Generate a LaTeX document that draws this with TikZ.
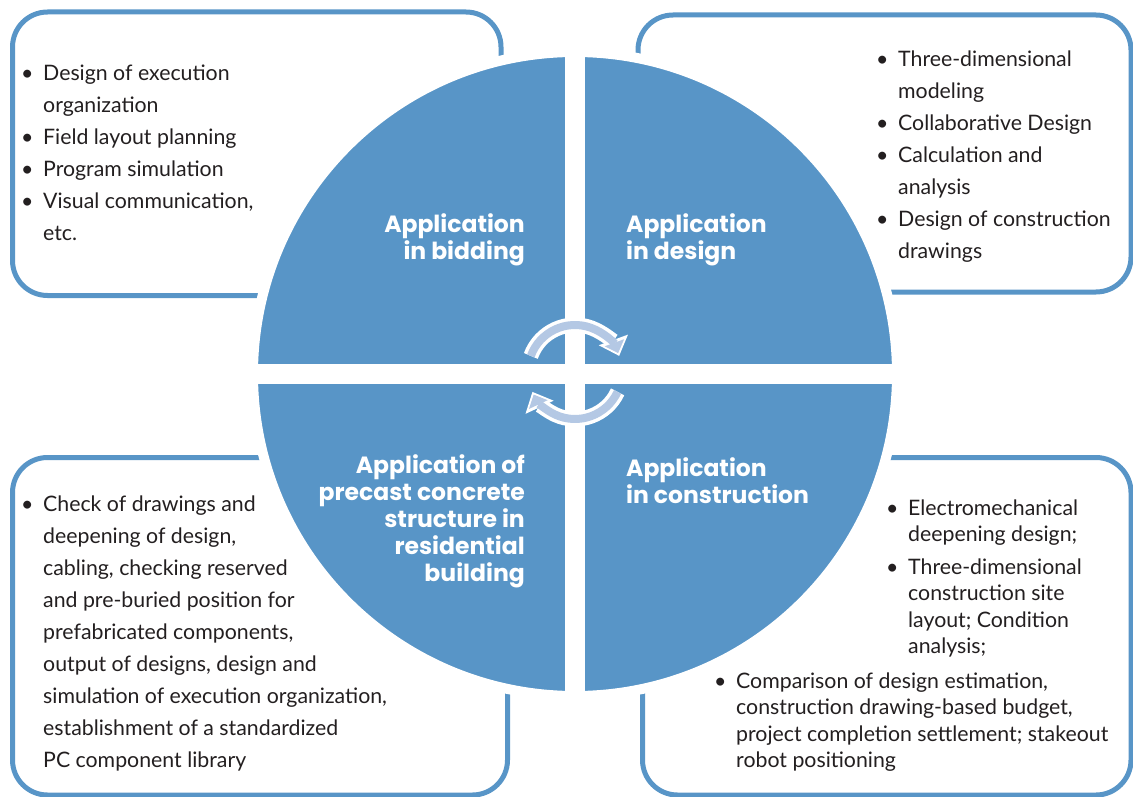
\documentclass[tikz,border=0pt]{standalone}
\usepackage{fontspec}
\setmainfont{Lato}
\newfontfamily\headfont{Poppins}
\usetikzlibrary{arrows.meta}

\definecolor{quadblue}{RGB}{88,149,199}
\definecolor{cycleblue}{RGB}{180,200,228}
\definecolor{inkgray}{RGB}{35,31,32}

\newcommand{\bul}{\makebox[22pt][l]{\textbullet}}

\tikzset{
    infobox/.style={draw=quadblue, line width=5pt, fill=white, rounded corners=35pt},
    quadlabel/.style={text=white, inner sep=0pt, font=\headfont\bfseries\fontsize{23.5}{27}\selectfont},
    bullets/.style={text=inkgray, inner sep=0pt, anchor=base west},
    cycleback/.style={white, line width=15pt, -{Triangle[width=30pt,length=17pt]}},
    cyclefront/.style={cycleblue, line width=8pt, shorten >=3pt, -{Triangle[width=20pt,length=11pt]}},
}

\begin{document}
\begin{tikzpicture}[x=1pt, y=-1pt]
    \useasboundingbox (0,0) rectangle (1133,797);

    % Four text boxes behind the disc
    \draw[infobox] (12.5,12) rectangle (501,295.5);
    \draw[infobox] (638,15) rectangle (1131,292);
    \draw[infobox] (12.5,457.5) rectangle (507.5,795);
    \draw[infobox] (642.5,457.5) rectangle (1131,795);

    % Disc split in four quarters
    \filldraw[fill=quadblue, draw=white, line width=10pt] (575,374) circle (322pt);
    \draw[white, line width=20pt] (575,47) -- (575,701);
    \draw[white, line width=20pt] (248,374) -- (902,374);

    % Cycle arrows in the middle
    \coordinate (hub) at (575,372);
    \draw[cycleback] (hub) ++(-160:47) arc[start angle=-160, end angle=-20, radius=47];
    \draw[cyclefront] (hub) ++(-160:47) arc[start angle=-160, end angle=-20, radius=47];
    \draw[cycleback] (hub) ++(25:47) arc[start angle=25, end angle=155, radius=47];
    \draw[cyclefront] (hub) ++(25:47) arc[start angle=25, end angle=155, radius=47];

    % Quarter labels
    \node[quadlabel, anchor=east, align=right] (bidding) at (525,240) {Application\\in bidding};
    \node[quadlabel, anchor=west, align=left] (design) at (626,240) {Application\\in design};
    \node[quadlabel, anchor=east, align=right] (precast) at (525,521)
        {Application of\\precast concrete\\structure in\\residential\\building};
    \node[quadlabel, anchor=west, align=left] (construction) at (626,481) {Application\\in construction};

    % Bullet lists
    \node[bullets, font=\fontsize{21.3}{32}\selectfont] (biddinglist) at (21,81) {%
        \begin{tabular}[t]{@{}l@{}l@{}}
        \bul & Design of execution\\
             & organization\\
        \bul & Field layout planning\\
        \bul & Program simulation\\
        \bul & Visual communication,\\
             & etc.
        \end{tabular}};
    \node[bullets, font=\fontsize{21.3}{32}\selectfont] (designlist) at (876,67) {%
        \begin{tabular}[t]{@{}l@{}l@{}}
        \bul & Three-dimensional\\
             & modeling\\
        \bul & Collaborative Design\\
        \bul & Calculation and\\
             & analysis\\
        \bul & Design of construction\\
             & drawings
        \end{tabular}};
    \node[bullets, font=\fontsize{21.3}{32}\selectfont] (precastlist) at (21,511) {%
        \begin{tabular}[t]{@{}l@{}l@{}}
        \bul & Check of drawings and\\
             & deepening of design,\\
             & cabling, checking reserved\\
             & and pre-buried position for\\
             & prefabricated components,\\
             & output of designs, design and\\
             & simulation of execution organization,\\
             & establishment of a standardized\\
             & PC component library
        \end{tabular}};
    \node[bullets, font=\fontsize{21.3}{26.5}\selectfont] (constructionlist) at (886,515) {%
        \begin{tabular}[t]{@{}l@{}l@{}}
        \bul & Electromechanical\\
             & deepening design;\\[6pt]
        \bul & Three-dimensional\\
             & construction site\\
             & layout; Condition\\
             & analysis;
        \end{tabular}};
    \node[bullets, font=\fontsize{21.3}{26.5}\selectfont] (budgetlist) at (714,688) {%
        \begin{tabular}[t]{@{}l@{}l@{}}
        \bul & Comparison of design estimation,\\
             & construction drawing-based budget,\\
             & project completion settlement; stakeout\\
             & robot positioning
        \end{tabular}};
\end{tikzpicture}
\end{document}
